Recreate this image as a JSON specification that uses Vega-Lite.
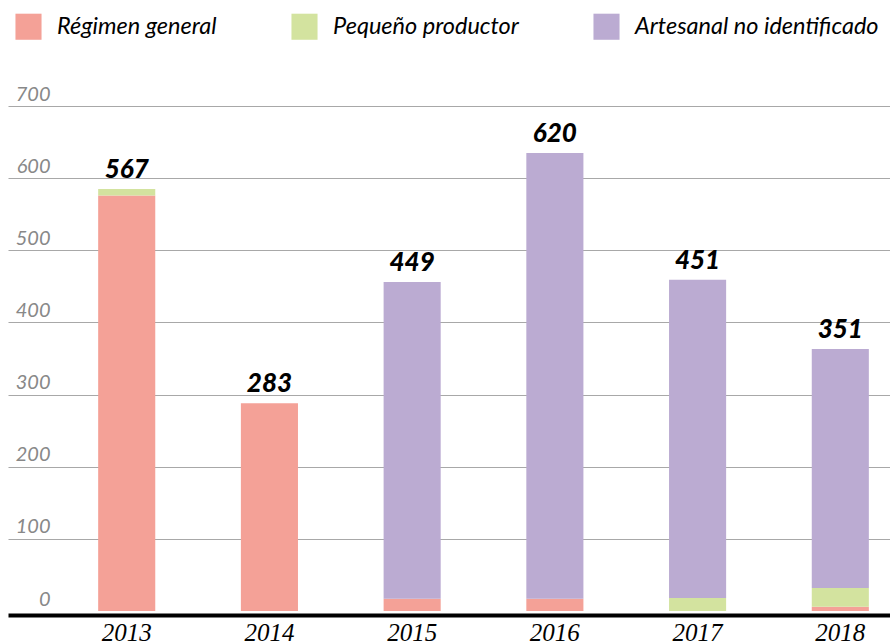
{
  "$schema": "https://vega.github.io/schema/vega-lite/v6.json",
  "width": 882,
  "height": 505,
  "autosize": {"type": "none"},
  "padding": {"left": 8, "top": 106, "right": 0, "bottom": 33},
  "background": "white",
  "config": {"view": {"stroke": null}},
  "data": {
    "values": [
      {"year": "2013", "category": "Régimen general", "value": 576, "label": 567},
      {"year": "2013", "category": "Pequeño productor", "value": 9, "label": 567},
      {"year": "2014", "category": "Régimen general", "value": 288, "label": 283},
      {"year": "2015", "category": "Régimen general", "value": 17, "label": 449},
      {"year": "2015", "category": "Artesanal no identificado", "value": 439, "label": 449},
      {"year": "2016", "category": "Régimen general", "value": 17, "label": 620},
      {"year": "2016", "category": "Artesanal no identificado", "value": 618, "label": 620},
      {"year": "2017", "category": "Pequeño productor", "value": 18, "label": 451},
      {"year": "2017", "category": "Artesanal no identificado", "value": 441, "label": 451},
      {"year": "2018", "category": "Régimen general", "value": 6, "label": 351},
      {"year": "2018", "category": "Pequeño productor", "value": 26, "label": 351},
      {"year": "2018", "category": "Artesanal no identificado", "value": 331, "label": 351}
    ]
  },
  "encoding": {
    "x": {
      "field": "year",
      "type": "ordinal",
      "scale": {"paddingInner": 0.6, "paddingOuter": 0.39, "align": 0.81},
      "axis": {
        "title": null,
        "ticks": false,
        "tickSize": 0,
        "domainColor": "black",
        "domainWidth": 4,
        "offset": 4,
        "labelAngle": 0,
        "labelFont": "Liberation Serif",
        "labelFontStyle": "italic",
        "labelFontSize": 25,
        "labelColor": "black",
        "labelBaseline": "alphabetic",
        "labelPadding": 25
      }
    }
  },
  "layer": [
    {
      "mark": {"type": "bar"},
      "encoding": {
        "y": {
          "field": "value",
          "type": "quantitative",
          "stack": "zero",
          "scale": {"domain": [0, 700]},
          "axis": {
            "title": null,
            "values": [0, 100, 200, 300, 400, 500, 600, 700],
            "domain": false,
            "ticks": false,
            "tickSize": 0,
            "grid": true,
            "gridColor": "#a8a8a8",
            "gridWidth": 1.2,
            "gridOpacity": {"condition": {"test": "datum.value === 0", "value": 0}, "value": 1},
            "labelAlign": "right",
            "labelPadding": -42,
            "labelBaseline": "alphabetic",
            "labelOffset": -6,
            "labelFont": "Lato",
            "labelFontStyle": "italic",
            "labelFontSize": 20,
            "labelColor": "#888888"
          }
        },
        "color": {
          "field": "category",
          "type": "nominal",
          "sort": ["Régimen general", "Pequeño productor", "Artesanal no identificado"],
          "scale": {
            "domain": ["Régimen general", "Pequeño productor", "Artesanal no identificado"],
            "range": ["#F4A197", "#D3E39F", "#BBABD2"]
          },
          "legend": {
            "title": null,
            "orient": "none",
            "legendX": 7,
            "legendY": -93,
            "direction": "horizontal",
            "padding": 0,
            "symbolType": "square",
            "symbolSize": 680,
            "symbolStrokeWidth": 0,
            "symbolOpacity": 1,
            "labelFont": "Lato",
            "labelFontStyle": "italic",
            "labelFontSize": 23.5,
            "labelColor": "black",
            "labelOffset": 15,
            "columnPadding": 74,
            "labelLimit": 400
          }
        },
        "order": {"field": "category", "sort": "descending"}
      }
    },
    {
      "mark": {
        "type": "text",
        "font": "Lato",
        "fontStyle": "italic",
        "fontWeight": 900,
        "fontSize": 26,
        "color": "black",
        "baseline": "alphabetic",
        "dy": -11
      },
      "encoding": {
        "y": {"aggregate": "sum", "field": "value", "type": "quantitative"},
        "text": {"aggregate": "max", "field": "label", "type": "quantitative"}
      }
    }
  ]
}
